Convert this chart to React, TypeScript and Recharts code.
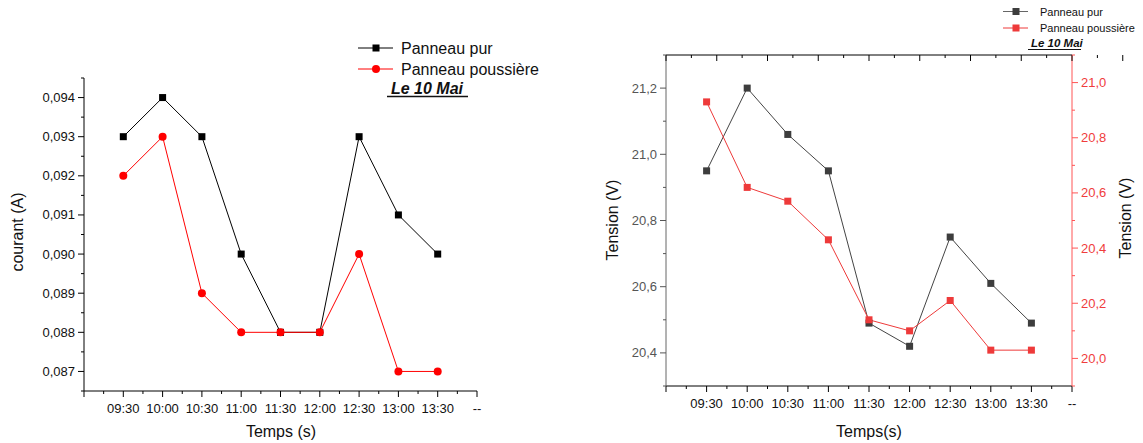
import React from 'react';
import { LineChart, Line, XAxis, YAxis } from 'recharts';

const FONT = 'Arial, "Liberation Sans", Helvetica, sans-serif';

// categories (time of day); first slot is empty, last one is the "--" placeholder
const times = ['09:30', '10:00', '10:30', '11:00', '11:30', '12:00', '12:30', '13:00', '13:30'];
const xTickLabels = ['', ...times, '--'];

// left chart: current (A)
const courantPur = [0.093, 0.094, 0.093, 0.09, 0.088, 0.088, 0.093, 0.091, 0.09];
const courantPoussiere = [0.092, 0.093, 0.089, 0.088, 0.088, 0.088, 0.09, 0.087, 0.087];
const courantTicks = [
  0.0865, 0.087, 0.0875, 0.088, 0.0885, 0.089, 0.0895, 0.09, 0.0905,
  0.091, 0.0915, 0.092, 0.0925, 0.093, 0.0935, 0.094, 0.0945,
];

// right chart: voltage (V), pur on left axis, poussière on right axis
const tensionPur = [20.95, 21.2, 21.06, 20.95, 20.49, 20.42, 20.75, 20.61, 20.49];
const tensionPoussiere = [20.93, 20.62, 20.57, 20.43, 20.14, 20.1, 20.21, 20.03, 20.03];
const tensionLeftTicks = [20.3, 20.4, 20.5, 20.6, 20.7, 20.8, 20.9, 21.0, 21.1, 21.2, 21.3];
const tensionRightTicks = [19.9, 20.0, 20.1, 20.2, 20.3, 20.4, 20.5, 20.6, 20.7, 20.8, 20.9, 21.0, 21.1];

// major ticks on the category slots, minor ticks half way
const xTicks = xTickLabels.flatMap((_, i) => (i < xTickLabels.length - 1 ? [i, i + 0.5] : [i]));

const courantData = times.map((t, i) => ({ x: i + 1, time: t, pur: courantPur[i], poussiere: courantPoussiere[i] }));
const tensionData = times.map((t, i) => ({ x: i + 1, time: t, pur: tensionPur[i], poussiere: tensionPoussiere[i] }));

const RED = '#ff0000';
const RED2 = '#ee3a3a';
const GREY = '#3d3d3d';

// ---- tick renderers (tickSize/tickMargin are 0 so x/y sit on the axis line) ----
const xTick = (color: string, dir: number, showLabel: boolean) => (props: any) => {
  const { x, y, payload } = props;
  const v = payload.value;
  const major = Number.isInteger(v);
  return (
    <g>
      <line x1={x} y1={y} x2={x} y2={y + dir * (major ? 6 : 3)} stroke={color} strokeWidth={1} />
      {major && showLabel && (
        <text x={x} y={y + 22} textAnchor="middle" fontSize={13} fontFamily={FONT} fill="#111">
          {xTickLabels[v]}
        </text>
      )}
    </g>
  );
};

const yTick = (
  color: string,
  textColor: string,
  side: 'left' | 'right',
  isMajor: (v: number) => boolean,
  fmt: (v: number) => string,
  fontSize = 13,
) => (props: any) => {
  const { x, y, payload } = props;
  const v = payload.value;
  const major = isMajor(v);
  const s = side === 'left' ? -1 : 1;
  return (
    <g>
      <line x1={x} y1={y} x2={x + s * (major ? 6 : 3)} y2={y} stroke={color} strokeWidth={1} />
      {major && (
        <text
          x={x + s * 9}
          y={y}
          dy="0.35em"
          textAnchor={side === 'left' ? 'end' : 'start'}
          fontSize={fontSize}
          fontFamily={FONT}
          fill={textColor}
        >
          {fmt(v)}
        </text>
      )}
    </g>
  );
};

const milliMajor = (v: number) => Math.abs(v * 1000 - Math.round(v * 1000)) < 1e-6;
const evenTenth = (v: number) => Math.round(v * 10) % 2 === 0;

const squareDot = (fill: string, size: number) => (props: any) => {
  const { cx, cy, index } = props;
  return <rect key={`sq-${index}`} x={cx - size / 2} y={cy - size / 2} width={size} height={size} fill={fill} />;
};
const circleDot = (fill: string, r: number) => (props: any) => {
  const { cx, cy, index } = props;
  return <circle key={`ci-${index}`} cx={cx} cy={cy} r={r} fill={fill} />;
};

const App: React.FC = () => {
  return (
    <div style={{ position: 'absolute', left: 0, top: 0, width: 1143, height: 443, background: '#fff', overflow: 'hidden' }}>
      {/* Left chart: courant */}
      <div style={{ position: 'absolute', left: 0, top: 0 }}>
        <LineChart width={1143} height={443} data={courantData} margin={{ top: 78, right: 666, bottom: 22, left: 24 }}>
          <XAxis
            dataKey="x"
            type="number"
            domain={[0, 10]}
            ticks={xTicks}
            interval={0}
            allowDataOverflow
            tickSize={0}
            tickMargin={0}
            height={30}
            stroke="#000"
            tick={xTick('#000', 1, true)}
          />
          <YAxis
            type="number"
            domain={[0.0865, 0.0945]}
            ticks={courantTicks}
            interval={0}
            allowDataOverflow
            tickSize={0}
            tickMargin={0}
            width={60}
            stroke="#000"
            tick={yTick('#000', '#111', 'left', milliMajor, (v) => v.toFixed(3).replace('.', ','))}
          />
          <Line
            dataKey="pur"
            stroke="#000"
            strokeWidth={1}
            isAnimationActive={false}
            dot={squareDot('#000', 7)}
            activeDot={false}
          />
          <Line
            dataKey="poussiere"
            stroke={RED}
            strokeWidth={1}
            isAnimationActive={false}
            dot={circleDot(RED, 4)}
            activeDot={false}
          />
        </LineChart>
      </div>

      {/* Right chart: tension, two y axes */}
      <div style={{ position: 'absolute', left: 0, top: 0 }}>
        <LineChart width={1143} height={443} data={tensionData} margin={{ top: 25, right: 11, bottom: 27, left: 606 }}>
          <XAxis
            dataKey="x"
            type="number"
            domain={[0, 10]}
            ticks={xTicks}
            interval={0}
            allowDataOverflow
            tickSize={0}
            tickMargin={0}
            height={30}
            stroke="#000"
            tick={xTick('#000', 1, true)}
          />
          <XAxis
            xAxisId="top"
            orientation="top"
            type="number"
            domain={[0, 10]}
            ticks={xTicks}
            interval={0}
            allowDataOverflow
            tickSize={0}
            tickMargin={0}
            height={30}
            stroke="#000"
            tick={xTick('#000', 1, false)}
          />
          <YAxis
            yAxisId="left"
            type="number"
            domain={[20.3, 21.3]}
            ticks={tensionLeftTicks}
            interval={0}
            allowDataOverflow
            tickSize={0}
            tickMargin={0}
            width={60}
            stroke="#666"
            tick={yTick('#555', '#555', 'left', evenTenth, (v) => v.toFixed(1).replace('.', ','))}
          />
          <YAxis
            yAxisId="right"
            orientation="right"
            type="number"
            domain={[19.9, 21.1]}
            ticks={tensionRightTicks}
            interval={0}
            allowDataOverflow
            tickSize={0}
            tickMargin={0}
            width={60}
            stroke="#f55"
            tick={yTick('#f55', '#f03c3c', 'right', evenTenth, (v) => v.toFixed(1).replace('.', ','))}
          />
          <Line
            yAxisId="left"
            dataKey="pur"
            stroke="#444"
            strokeWidth={1}
            isAnimationActive={false}
            dot={squareDot(GREY, 7)}
            activeDot={false}
          />
          <Line
            yAxisId="right"
            dataKey="poussiere"
            stroke={RED2}
            strokeWidth={1}
            isAnimationActive={false}
            dot={squareDot(RED2, 7)}
            activeDot={false}
          />
        </LineChart>
      </div>

      {/* titles and legends */}
      <svg width={1143} height={443} style={{ position: 'absolute', left: 0, top: 0, pointerEvents: 'none' }} fontFamily={FONT}>
        {/* left chart */}
        <text x={17} y={232} transform="rotate(-90 17 232)" textAnchor="middle" dominantBaseline="central" fontSize={16} fill="#111">
          courant (A)
        </text>
        <text x={281} y={437} textAnchor="middle" fontSize={16} fill="#111">Temps (s)</text>

        <line x1={358} y1={48} x2={393} y2={48} stroke="#000" strokeWidth={1} />
        <rect x={372.5} y={44.5} width={7} height={7} fill="#000" />
        <text x={401} y={53.5} fontSize={16} fill="#111">Panneau pur</text>
        <line x1={358} y1={69} x2={393} y2={69} stroke={RED} strokeWidth={1} />
        <circle cx={376} cy={69} r={4} fill={RED} />
        <text x={401} y={74.5} fontSize={16} fill="#111">Panneau poussière</text>
        <text x={391} y={94} fontSize={16} fontWeight="bold" fontStyle="italic" fill="#111">Le 10 Mai</text>
        <line x1={387} y1={96.5} x2={468} y2={96.5} stroke="#111" strokeWidth={1.4} />

        {/* right chart */}
        <text x={612} y={220} transform="rotate(-90 612 220)" textAnchor="middle" dominantBaseline="central" fontSize={16} fill="#111">
          Tension (V)
        </text>
        <text x={1125} y={218} transform="rotate(-90 1125 218)" textAnchor="middle" dominantBaseline="central" fontSize={16} fill="#111">
          Tension (V)
        </text>
        <text x={869} y={437} textAnchor="middle" fontSize={16} fill="#111">Temps(s)</text>

        <line x1={1003} y1={11.5} x2={1028} y2={11.5} stroke="#666" strokeWidth={1} />
        <rect x={1012.5} y={8} width={7} height={7} fill={GREY} />
        <text x={1040} y={15.5} fontSize={11} fill="#111">Panneau pur</text>
        <line x1={1003} y1={28} x2={1028} y2={28} stroke={RED2} strokeWidth={1} />
        <rect x={1012.5} y={24.5} width={7} height={7} fill={RED2} />
        <text x={1040} y={32} fontSize={11} fill="#111">Panneau poussière</text>
        <text x={1031} y={47} fontSize={11.5} fontWeight="bold" fontStyle="italic" fill="#111">Le 10 Mai</text>
        <line x1={1028} y1={49.5} x2={1081} y2={49.5} stroke="#111" strokeWidth={1.2} />
      </svg>
    </div>
  );
};

export default App;
